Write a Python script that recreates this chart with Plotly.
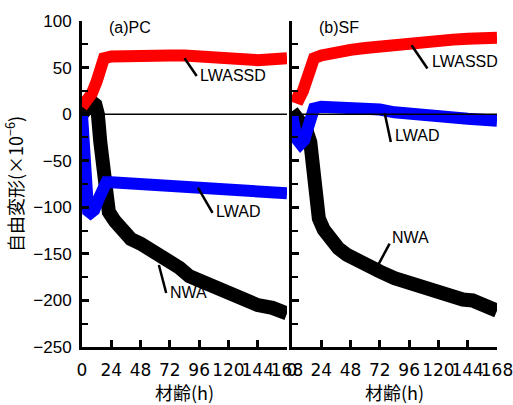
import plotly.graph_objects as go

# ---- data ----
pc_lwassd_h = [0, 4, 8, 12, 16, 18, 24, 36, 48, 60, 72, 84, 96, 108, 120, 132, 144, 156, 168]
pc_lwassd_v = [8, 14, 22, 35, 52, 60, 62, 63, 64, 64, 63, 63, 62, 60, 58, 57, 58, 59, 60]

pc_lwad_h = [0, 1, 2, 3, 5, 7, 10, 14, 18, 20, 24, 36, 48, 60, 72, 84, 96, 108, 120, 132, 144, 156, 168]
pc_lwad_v = [0, -30, -60, -85, -104, -106, -103, -90, -77, -73, -73, -74, -75, -75, -76, -78, -79, -80, -81, -82, -83, -84, -85]

pc_nwa_h = [0, 4, 8, 11, 13, 15, 17, 19, 22, 27, 33, 40, 48, 56, 64, 72, 80, 88, 96, 108, 120, 132, 144, 156, 168]
pc_nwa_v = [0, 8, 13, 10, 0, -30, -65, -90, -105, -115, -125, -134, -139, -145, -153, -158, -165, -174, -179, -186, -192, -200, -205, -208, -214]

sf_lwassd_h = [0, 3, 6, 9, 12, 15, 18, 24, 36, 48, 60, 72, 84, 96, 108, 120, 132, 144, 156, 168]
sf_lwassd_v = [20, 18, 17, 25, 40, 52, 60, 63, 67, 69, 71, 73, 75, 76, 77, 78, 80, 81, 82, 82]

sf_lwad_h = [0, 2, 4, 7, 10, 13, 16, 18, 24, 36, 48, 60, 72, 84, 96, 108, 120, 132, 144, 156, 168]
sf_lwad_v = [0, -15, -27, -32, -28, -15, 0, 6, 8, 8, 8, 7, 5, 2, 0, -1, -3, -4, -5, -6, -7]

sf_nwa_h = [0, 4, 8, 12, 15, 17, 18, 19, 20, 22, 26, 31, 38, 45, 56, 72, 84, 99, 112, 127, 140, 148, 158, 168]
sf_nwa_v = [3, -3, -10, -18, -30, -50, -70, -90, -100, -112, -124, -135, -144, -151, -160, -169, -176, -183, -189, -195, -199, -200, -206, -211]

x_ticks = [0, 24, 48, 72, 96, 120, 144, 168]
y_ticks = [-250, -200, -150, -100, -50, 0, 50, 100]

panel_titles = ["(a)PC", "(b)SF"]
series_names = ["NWA", "LWASSD", "LWAD"]
series_colors = {"NWA": "#000000", "LWASSD": "#ff0000", "LWAD": "#0000ff"}
series_widths = {"NWA": 14, "LWASSD": 12, "LWAD": 12}

panels = [
    ("x", "y", {"NWA": (pc_nwa_h, pc_nwa_v), "LWASSD": (pc_lwassd_h, pc_lwassd_v), "LWAD": (pc_lwad_h, pc_lwad_v)}),
    ("x2", "y2", {"NWA": (sf_nwa_h, sf_nwa_v), "LWASSD": (sf_lwassd_h, sf_lwassd_v), "LWAD": (sf_lwad_h, sf_lwad_v)}),
]

fig = go.Figure()
for xa, ya, data in panels:
    for name in series_names:
        h, v = data[name]
        fig.add_trace(go.Scatter(
            x=h, y=v, mode="lines", name=name, xaxis=xa, yaxis=ya,
            line=dict(color=series_colors[name], width=series_widths[name]),
            showlegend=False, hoverinfo="x+y+name"))

FONT = "Liberation Sans, Arial, Noto Sans CJK JP"
XFONT = "DejaVu Sans, Noto Sans CJK JP"
CJK = "Noto Sans CJK JP"

axis_common = dict(range=[0, 168], tickmode="array", tickvals=x_ticks,
                   ticktext=[str(t) for t in x_ticks], tickangle=0, automargin=False,
                   ticklabeloverflow="allow",
                   showline=True, linecolor="black", linewidth=3,
                   ticks="inside", ticklen=7, tickwidth=3, tickcolor="black",
                   showgrid=False, zeroline=False, ticklabelstandoff=6,
                   tickfont=dict(family=XFONT, size=17, color="black"),
                   title=dict(text="材齢(h)", font=dict(family=CJK, size=18, color="black"), standoff=4))
yaxis_common = dict(range=[-250, 100], tickmode="array", tickvals=y_ticks, automargin=False,
                    showline=True, linecolor="black", linewidth=3,
                    ticks="inside", ticklen=7, tickwidth=3, tickcolor="black",
                    minor=dict(dtick=25, ticks="inside", ticklen=6, tickwidth=2, tickcolor="black", showgrid=False),
                    showgrid=False, zeroline=False,
                    tickfont=dict(family=FONT, size=17, color="black"))

fig.update_layout(
    width=513, height=405,
    margin=dict(l=82, r=16, t=21, b=58),
    paper_bgcolor="white", plot_bgcolor="white",
    xaxis=dict(domain=[0, 0.494], anchor="y", **axis_common),
    xaxis2=dict(domain=[0.506, 1], anchor="y2", **axis_common),
    yaxis=dict(anchor="x", ticktext=[str(t).replace("-", "−") for t in y_ticks],
               ticklabelstandoff=4,
               title=dict(text="自由変形(×10<sup>−6</sup>)", font=dict(family=CJK, size=18, color="black"), standoff=10),
               **yaxis_common),
    yaxis2=dict(anchor="x2", showticklabels=False, **yaxis_common),
    showlegend=False,
)

# zero lines drawn above the data
for xa, ya in [("x", "y"), ("x2", "y2")]:
    fig.add_shape(type="line", xref=f"{xa} domain", yref=ya, x0=0, x1=1, y0=0, y1=0,
                  line=dict(color="black", width=1.5), layer="above")

# panel titles
fig.add_annotation(x=0.12, y=0.98, xref="x domain", yref="y domain", text=panel_titles[0],
                   showarrow=False, xanchor="left", yanchor="middle",
                   font=dict(family=FONT, size=16, color="black"))
fig.add_annotation(x=0.12, y=0.98, xref="x2 domain", yref="y2 domain", text=panel_titles[1],
                   showarrow=False, xanchor="left", yanchor="middle",
                   font=dict(family=FONT, size=16, color="black"))

# series labels with leader lines: (axes, line start, line end, text position, text)
labels = [
    ("x", "y", (84, 60), (94, 41), (95, 42), "LWASSD"),
    ("x", "y", (95, -79), (107, -106), (108, -105), "LWAD"),
    ("x", "y", (63, -162), (69, -192), (70.5, -192), "NWA"),
    ("x2", "y2", (98, 74), (111, 49), (113, 56), "LWASSD"),
    ("x2", "y2", (76, 1), (81, -30), (83, -22.5), "LWAD"),
    ("x2", "y2", (80, -139), (71, -161), (80, -132), "NWA"),
]
for xa, ya, p0, p1, pt, txt in labels:
    fig.add_shape(type="line", xref=xa, yref=ya, x0=p0[0], y0=p0[1], x1=p1[0], y1=p1[1],
                  line=dict(color="black", width=2.5), layer="above")
    fig.add_annotation(x=pt[0], y=pt[1], xref=xa, yref=ya, text=txt, showarrow=False,
                       xanchor="left", yanchor="middle",
                       font=dict(family=FONT, size=16, color="black"))

fig.write_html("out.html", config={"displayModeBar": False},
               post_script="document.body.style.margin='0px';document.body.style.overflow='hidden';")
